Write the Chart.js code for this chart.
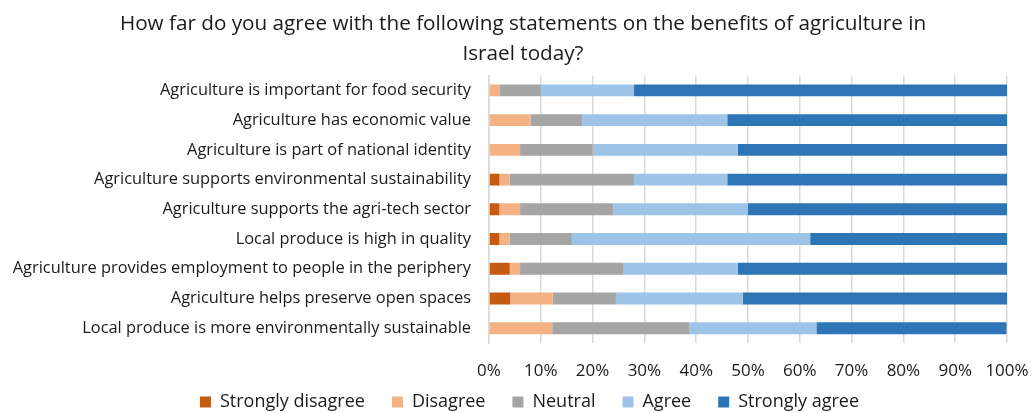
<!DOCTYPE html>
<html lang="en">
<head>
  <meta charset="UTF-8">
  <title>Benefits of agriculture in Israel</title>
  <style>
    body {
      margin: 0;
      padding: 0;
      background: #fff;
    }

    .chart-box {
      width: 1033px;
      height: 413px;
    }
  </style>
  <script src="https://cdn.jsdelivr.net/npm/chart.js"></script>
</head>
<body>
  <div class="chart-box">
    <canvas id="agriChart"></canvas>
  </div>

  <script>
    const statements = [
      "Agriculture is important for food security",
      "Agriculture has economic value",
      "Agriculture is part of national identity",
      "Agriculture supports environmental sustainability",
      "Agriculture supports the agri-tech sector",
      "Local produce is high in quality",
      "Agriculture provides employment to people in the periphery",
      "Agriculture helps preserve open spaces",
      "Local produce is more environmentally sustainable"
    ];

    // share of respondents per answer, in percent
    const stronglyDisagree = [0, 0, 0, 2, 2, 2, 4, 4.1, 0];
    const disagree = [2, 8, 6, 2, 4, 2, 2, 8.2, 12.2];
    const neutral = [8, 10, 14, 24, 18, 12, 20, 12.2, 26.5];
    const agree = [18, 28, 28, 18, 26, 46, 22, 24.5, 24.5];
    const stronglyAgree = [72, 54, 52, 54, 50, 38, 52, 51, 36.7];

    const answerLabels = ["Strongly disagree", "Disagree", "Neutral", "Agree", "Strongly agree"];
    const answerColors = ["#c55a11", "#f4b183", "#a5a5a5", "#9dc3e6", "#2e75b6"];
    const percentTicks = [0, 10, 20, 30, 40, 50, 60, 70, 80, 90, 100];

    const textFont = "'Open Sans', 'Liberation Sans', sans-serif";
    const textColor = "#1a1a1a";

    const seriesValues = [stronglyDisagree, disagree, neutral, agree, stronglyAgree];

    // title and legend are centred a little right of the canvas middle,
    // and the legend is pulled up to sit close under the percent ticks
    const boxTweaks = {
      id: "boxTweaks",
      afterLayout(chart) {
        if (chart.titleBlock) chart.titleBlock.left = 39;
        const lg = chart.legend;
        if (lg) {
          lg.left = 52;
          const h = lg.bottom - lg.top;
          lg.top = 366;
          lg.bottom = 366 + h;
        }
      }
    };

    const ctx = document.getElementById("agriChart").getContext("2d");
    new Chart(ctx, {
      type: "bar",
      data: {
        labels: statements,
        datasets: seriesValues.map((vals, i) => ({
          label: answerLabels[i],
          data: vals,
          backgroundColor: answerColors[i],
          borderWidth: 0,
          barPercentage: 0.8,
          categoryPercentage: 0.5
        }))
      },
      plugins: [boxTweaks],
      options: {
        indexAxis: "y",
        responsive: true,
        maintainAspectRatio: false,
        animation: false,
        layout: {
          padding: { left: 0, right: 26, top: 9, bottom: -41.5 }
        },
        scales: {
          x: {
            stacked: true,
            min: 0,
            max: 100,
            afterBuildTicks: (axis) => {
              axis.ticks = percentTicks.map(v => ({ value: v }));
            },
            afterFit: (axis) => {
              axis.paddingLeft = 0;
              axis.paddingRight = 0;
            },
            ticks: {
              callback: (v) => v + "%",
              color: textColor,
              font: { family: textFont, size: 17 },
              padding: 18,
              maxRotation: 0
            },
            grid: {
              color: "#d9d9d9",
              lineWidth: 1.5,
              drawTicks: false
            },
            border: { display: false }
          },
          y: {
            stacked: true,
            afterFit: (axis) => {
              axis.width = 489;
            },
            ticks: {
              color: textColor,
              font: { family: textFont, size: 16.4 },
              padding: 18
            },
            grid: { display: false, drawTicks: false },
            border: { display: true, color: "#d9d9d9", width: 1.5 }
          }
        },
        plugins: {
          title: {
            display: true,
            text: [
              "How far do you agree with the following statements on the benefits of agriculture in",
              "Israel today?"
            ],
            color: textColor,
            font: { family: textFont, size: 20.7, weight: "normal", lineHeight: 1.45 },
            padding: { top: 0, bottom: 6.5 }
          },
          legend: {
            position: "bottom",
            labels: {
              color: textColor,
              font: { family: textFont, size: 18 },
              boxWidth: 11,
              boxHeight: 11,
              padding: 27
            }
          },
          tooltip: { enabled: false }
        }
      }
    });
  </script>
</body>
</html>
